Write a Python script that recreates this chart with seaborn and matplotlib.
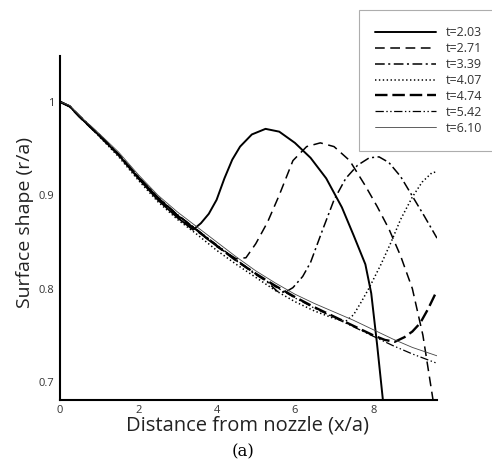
import numpy as np
import pandas as pd
import matplotlib
matplotlib.use("Agg")
import matplotlib.pyplot as plt
import seaborn as sns
from matplotlib.ticker import MultipleLocator, FuncFormatter

# ---------------- data ----------------
labels = ["t=2.03", "t=2.71", "t=3.39", "t=4.07", "t=4.74", "t=5.42", "t=6.10"]

t203_x = [0, 0.25, 0.5, 1.0, 1.5, 2.0, 2.5, 3.0, 3.4, 3.6, 3.8, 4.0, 4.2, 4.4, 4.6, 4.9, 5.25, 5.6, 6.0, 6.4, 6.8, 7.2, 7.5, 7.8, 7.95, 8.1, 8.3]
t203_y = [1.0, .995, .984, .964, .943, .918, .895, .876, .863, .870, .880, .895, .918, .938, .952, .965, .971, .968, .956, .940, .918, .887, .857, .826, .795, .740, .660]

t271_x = [0, 0.25, 0.5, 1.0, 1.5, 2.0, 2.5, 3.0, 3.5, 4.0, 4.5, 4.75, 5.0, 5.3, 5.6, 5.95, 6.3, 6.65, 7.0, 7.4, 7.8, 8.1, 8.4, 8.7, 9.0, 9.27, 9.55]
t271_y = [1.0, .995, .984, .964, .943, .919, .897, .879, .862, .845, .832, .833, .848, .871, .900, .937, .952, .956, .952, .937, .910, .888, .864, .835, .800, .750, .675]

t339_x = [0, 0.25, 0.5, 1.0, 1.5, 2.0, 2.5, 3.0, 3.5, 4.0, 4.5, 5.0, 5.3, 5.55, 5.75, 5.95, 6.2, 6.4, 6.7, 7.0, 7.3, 7.6, 7.9, 8.15, 8.4, 8.7, 9.0, 9.3, 9.63]
t339_y = [1.0, .995, .985, .965, .944, .920, .898, .879, .863, .846, .830, .815, .807, .797, .796, .801, .813, .828, .862, .895, .918, .932, .940, .941, .935, .920, .899, .878, .854]

t407_x = [0, 0.25, 0.5, 1.0, 1.5, 2.0, 2.5, 3.0, 3.5, 4.0, 4.5, 5.0, 5.5, 6.0, 6.5, 7.0, 7.3, 7.5, 7.7, 7.9, 8.2, 8.45, 8.7, 9.0, 9.25, 9.5, 9.63]
t407_y = [1.0, .995, .984, .963, .941, .916, .893, .874, .858, .841, .826, .812, .798, .786, .776, .768, .765, .772, .786, .801, .826, .849, .874, .898, .914, .924, .925]

t474_x = [0, 0.25, 0.5, 1.0, 1.5, 2.0, 2.5, 3.0, 3.5, 4.0, 4.5, 5.0, 5.5, 6.0, 6.5, 7.0, 7.5, 8.0, 8.3, 8.55, 8.8, 9.0, 9.2, 9.4, 9.63]
t474_y = [1.0, .995, .984, .964, .943, .919, .897, .878, .862, .846, .830, .816, .803, .791, .780, .770, .760, .750, .745, .743, .748, .754, .763, .778, .798]

t542_x = [0, 0.25, 0.5, 1.0, 1.5, 2.0, 2.5, 3.0, 3.5, 4.0, 4.5, 5.0, 5.5, 6.0, 6.5, 7.0, 7.5, 8.0, 8.5, 9.0, 9.63]
t542_y = [1.0, .995, .984, .964, .943, .919, .897, .879, .863, .847, .831, .816, .802, .790, .779, .769, .759, .749, .739, .730, .720]

t610_x = [0, 0.25, 0.5, 1.0, 1.5, 2.0, 2.5, 3.0, 3.5, 4.0, 4.5, 5.0, 5.5, 6.0, 6.5, 7.0, 7.5, 8.0, 8.5, 9.0, 9.63]
t610_y = [1.0, .996, .985, .966, .946, .922, .900, .882, .866, .850, .834, .819, .806, .794, .784, .775, .766, .756, .746, .737, .728]

x_ticks = [0, 2, 4, 6, 8]
y_ticks = [0.7, 0.8, 0.9, 1.0]

series_x = [t203_x, t271_x, t339_x, t407_x, t474_x, t542_x, t610_x]
series_y = [t203_y, t271_y, t339_y, t407_y, t474_y, t542_y, t610_y]

frames = []
for lab, xs, ys in zip(labels, series_x, series_y):
    frames.append(pd.DataFrame({"x": xs, "y": ys, "t": lab}))
df = pd.concat(frames, ignore_index=True)

# ---------------- styling ----------------
sns.set_style("white")
plt.rcParams["font.family"] = ["Open Sans", "DejaVu Sans"]
plt.rcParams["lines.scale_dashes"] = False

styles = {
    "t=2.03": dict(lw=1.4, dashes=None, color="black"),
    "t=2.71": dict(lw=1.1, dashes=(7, 4), color="black"),
    "t=3.39": dict(lw=1.1, dashes=(7, 2.5, 1.5, 2.5), color="black"),
    "t=4.07": dict(lw=1.1, dashes=(1.0, 1.8), color="black"),
    "t=4.74": dict(lw=1.7, dashes=(9, 3.5), color="black"),
    "t=5.42": dict(lw=0.9, dashes=(6, 1.8, 1, 1.8, 1, 1.8), color="black"),
    "t=6.10": dict(lw=0.6, dashes=None, color="#444444"),
}

fig = plt.figure(figsize=(4.92, 4.75), dpi=100)
ax = fig.add_axes([60 / 492, 1 - 400 / 475, 377 / 492, 344 / 475])

for lab in labels:
    st = styles[lab]
    sub = df[df["t"] == lab]
    sns.lineplot(data=sub, x="x", y="y", ax=ax, sort=False, estimator=None,
                 color=st["color"], linewidth=st["lw"], label=lab)
    line = ax.get_lines()[-1]
    if st["dashes"] is not None:
        line.set_dashes(st["dashes"])

ax.set_xlim(0, 9.63)
ax.set_ylim(0.6807, 1.049)

ax.xaxis.set_major_locator(plt.FixedLocator(x_ticks))
ax.yaxis.set_major_locator(plt.FixedLocator(y_ticks))
ax.xaxis.set_minor_locator(MultipleLocator(0.5))
ax.yaxis.set_minor_locator(MultipleLocator(0.02))
fmt = FuncFormatter(lambda v, p: f"{v:g}")
ax.xaxis.set_major_formatter(fmt)
ax.yaxis.set_major_formatter(fmt)

for s in ["top", "right"]:
    ax.spines[s].set_visible(False)
for s in ["left", "bottom"]:
    ax.spines[s].set_color("black")
    ax.spines[s].set_linewidth(1.5)

ax.tick_params(which="major", direction="in", length=6, width=1.3, color="black",
               labelsize=8, labelcolor="#333333")
ax.tick_params(axis="x", which="major", pad=3.5)
ax.tick_params(axis="y", which="major", pad=4)
ax.tick_params(which="minor", direction="in", length=3, width=0.6, color="#999999")

ax.set_xlabel("")
ax.set_ylabel("")

fig.text(25 / 492, 1 - 222 / 475, "Surface shape (r/a)", rotation=90,
         ha="center", va="center", fontsize=14, color="#222222")
fig.text(247 / 492, 1 - 425 / 475, "Distance from nozzle (x/a)",
         ha="center", va="center", fontsize=14.5, color="#222222")
fig.text(243 / 492, 1 - 452 / 475, "(a)", ha="center", va="center",
         fontsize=12, family="DejaVu Serif", color="black")

leg = ax.legend(loc="upper right", bbox_to_anchor=(499 / 492, 1 - 10 / 475),
                bbox_transform=fig.transFigure, frameon=True, fancybox=False,
                fontsize=9, handlelength=4.9, handletextpad=0.8,
                labelspacing=0.23, borderpad=1.3, borderaxespad=0)
leg.get_frame().set_edgecolor("#999999")
leg.get_frame().set_linewidth(0.8)
for txt in leg.get_texts():
    txt.set_color("#333333")

fig.savefig("out.png", dpi=100)
